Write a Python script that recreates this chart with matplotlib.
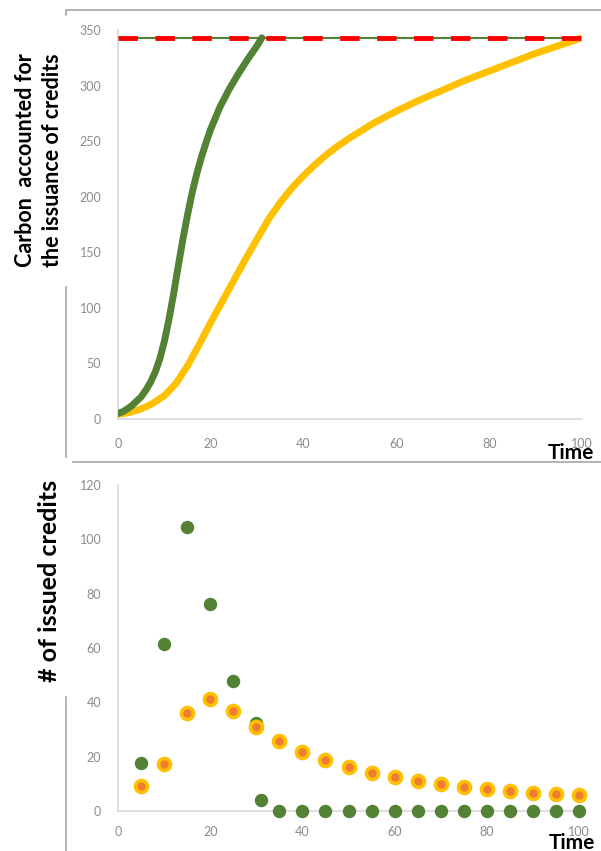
import matplotlib
matplotlib.use("Agg")
import matplotlib.pyplot as plt
from matplotlib.lines import Line2D

plt.rcParams['font.family'] = ['Lato', 'DejaVu Sans']

# top chart: carbon accounted for the issuance of credits
green_t = [0, 1, 2, 3, 4, 5, 6, 7, 8, 9, 10, 11, 12, 13, 14, 15, 16, 17, 18, 19, 20,
           22, 24, 26, 28, 30, 31]
green_v = [5, 6.5, 9, 12, 16, 20, 26, 33, 42, 54, 70, 90, 113, 138, 162, 184, 204, 221,
           236, 249, 261, 281, 297, 311, 324, 336, 343]
orange_t = [0, 2.5, 5, 7.5, 10, 12.5, 15, 17.5, 20, 22.5, 25, 27.5, 30, 32.5, 35, 37.5,
            40, 42.5, 45, 47.5, 50, 55, 60, 65, 70, 75, 80, 85, 90, 95, 100]
orange_v = [4, 6, 9, 14, 21, 32, 48, 67, 87, 106, 125, 144, 162, 180, 195, 208,
            219, 229, 238, 246, 253, 266, 277, 287, 296, 305, 313, 321, 329, 336, 343]
cap_t = [0, 100]
cap_v = [343, 343]

# bottom chart: number of issued credits
green_pts_t = [5, 10, 15, 20, 25, 30, 31, 35, 40, 45, 50, 55, 60, 65, 70, 75, 80, 85, 90, 95, 100]
green_pts_v = [17.6, 61.3, 104.6, 76.1, 47.7, 32.5, 4.0, 0, 0, 0, 0, 0, 0, 0, 0, 0, 0, 0, 0, 0, 0]
orange_pts_t = [5, 10, 15, 20, 25, 30, 35, 40, 45, 50, 55, 60, 65, 70, 75, 80, 85, 90, 95, 100]
orange_pts_v = [9.3, 17.3, 36.1, 41.1, 36.7, 31.0, 25.9, 21.8, 18.8, 16.1, 14.1, 12.4, 11.0,
                9.9, 8.8, 8.0, 7.2, 6.7, 6.4, 5.8]

GREEN = '#548235'
GOLD = '#FFC000'
ORANGE = '#ED7D31'
TICK = '#8c8c8c'
SPINE = '#d9d9d9'
BORDER = '#a6a6a6'

W, H = 601, 851
fig = plt.figure(figsize=(W / 100, H / 100), dpi=100)


def px(x0, y0, x1, y1):
    return [x0 / W, 1 - y1 / H, (x1 - x0) / W, (y1 - y0) / H]


def style(ax, xpad, ypad):
    for s in ['top', 'right']:
        ax.spines[s].set_visible(False)
    for s in ['left', 'bottom']:
        ax.spines[s].set_color(SPINE)
        ax.spines[s].set_linewidth(1.2)
    ax.tick_params(axis='both', length=0, colors=TICK, labelsize=9)
    ax.tick_params(axis='x', pad=xpad)
    ax.tick_params(axis='y', pad=ypad)


ax1 = fig.add_axes(px(118, 30, 582, 419))
ax1.plot(cap_t, cap_v, color=GREEN, lw=1.5, zorder=2)
ax1.plot(orange_t, orange_v, color=GOLD, lw=5, solid_capstyle='butt',
         solid_joinstyle='round', zorder=3)
ax1.plot(green_t, green_v, color=GREEN, lw=5, solid_capstyle='round',
         solid_joinstyle='round', zorder=4)
ax1.plot(cap_t, cap_v, color='#ff0000', lw=3.5, dashes=(4, 3.6), zorder=5)
ax1.set_xlim(0, 100)
ax1.set_ylim(0, 350)
ax1.set_xticks(range(0, 101, 20))
ax1.set_yticks(range(0, 351, 50))
style(ax1, 14, 12)

ax2 = fig.add_axes(px(118, 485, 579, 811))
ax2.scatter(green_pts_t, green_pts_v, s=75, color=GREEN, zorder=3, clip_on=False)
ax2.scatter(orange_pts_t, orange_pts_v, s=75, color=ORANGE, edgecolors=GOLD,
            linewidths=2.6, zorder=4, clip_on=False)
ax2.set_xlim(0, 100)
ax2.set_ylim(0, 120)
ax2.set_xticks(range(0, 101, 20))
ax2.set_yticks(range(0, 121, 20))
style(ax2, 11, 12)

# chart area borders
for xs, ys in [((66, 601), (10, 10)), ((66, 66), (10, 15)), ((66, 66), (287, 457)),
               ((73, 601), (462, 462)), ((66, 66), (697, 851))]:
    fig.add_artist(Line2D([x / W for x in xs], [1 - y / H for y in ys],
                          color=BORDER, lw=1.2))

fig.text(39 / W, 1 - 160 / H, 'Carbon  accounted for\nthe issuance of credits',
         rotation=90, ha='center', va='center', fontsize=15.5, fontweight='bold',
         linespacing=1.35)
fig.text(50 / W, 1 - 581 / H, '# of issued credits', rotation=90, ha='center',
         va='center', fontsize=18, fontweight='bold')
fig.text(571 / W, 1 - 453 / H, 'Time', ha='center', va='center', fontsize=15,
         fontweight='bold')
fig.text(572 / W, 1 - 843 / H, 'Time', ha='center', va='center', fontsize=15,
         fontweight='bold')

fig.savefig('out.png', dpi=100)
